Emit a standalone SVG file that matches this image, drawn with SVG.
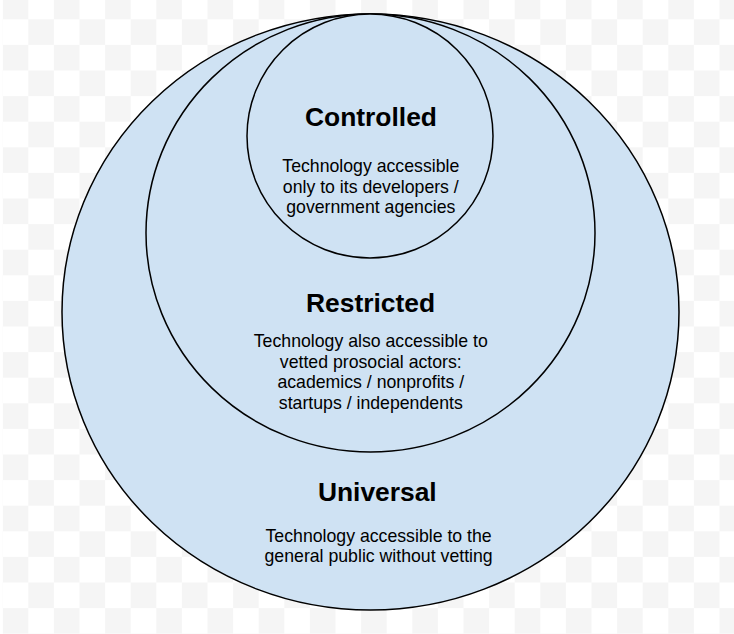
<svg xmlns="http://www.w3.org/2000/svg" width="734" height="634" viewBox="0 0 734 634">
  <defs>
    <pattern id="chk" x="2.7" y="-6.3" width="51.2" height="51.2" patternUnits="userSpaceOnUse">
      <rect width="51.2" height="51.2" fill="#ffffff"/>
      <rect width="25.6" height="25.6" fill="#f5f5f5"/>
      <rect x="25.6" y="25.6" width="25.6" height="25.6" fill="#f5f5f5"/>
    </pattern>
    <style>
      .ring { fill: #cfe2f3; stroke: #000000; stroke-width: 1.5; }
      .title { font-family: "Liberation Sans", Arial, sans-serif; font-weight: bold; font-size: 26.4px; text-anchor: middle; fill: #000000; }
      .body { font-family: "Liberation Sans", Arial, sans-serif; font-size: 17.7px; text-anchor: middle; fill: #000000; }
    </style>
  </defs>
  <rect x="0" y="0" width="734" height="634" fill="#ffffff"/>
  <rect x="2.7" y="0" width="731.3" height="634" fill="url(#chk)"/>

  <g id="universal">
    <ellipse class="ring" cx="370.5" cy="312" rx="308.5" ry="298"/>
    <text class="title" x="377.3" y="501">Universal</text>
    <text class="body" x="378.6" y="541.7">Technology accessible to the</text>
    <text class="body" x="378.6" y="562.3">general public without vetting</text>
  </g>

  <g id="restricted">
    <ellipse class="ring" cx="370.5" cy="233" rx="224.5" ry="219"/>
    <text class="title" x="370.6" y="311.7">Restricted</text>
    <text class="body" x="370.8" y="347">Technology also accessible to</text>
    <text class="body" x="370.8" y="367.7">vetted prosocial actors:</text>
    <text class="body" x="370.8" y="388.3">academics / nonprofits /</text>
    <text class="body" x="370.8" y="409">startups / independents</text>
  </g>

  <g id="controlled">
    <ellipse class="ring" cx="370" cy="136" rx="123" ry="122"/>
    <text class="title" x="371" y="125.7">Controlled</text>
    <text class="body" x="370.8" y="171.7">Technology accessible</text>
    <text class="body" x="370.8" y="192.5">only to its developers /</text>
    <text class="body" x="370.8" y="213.3">government agencies</text>
  </g>

  <g id="connectors"/>
</svg>
